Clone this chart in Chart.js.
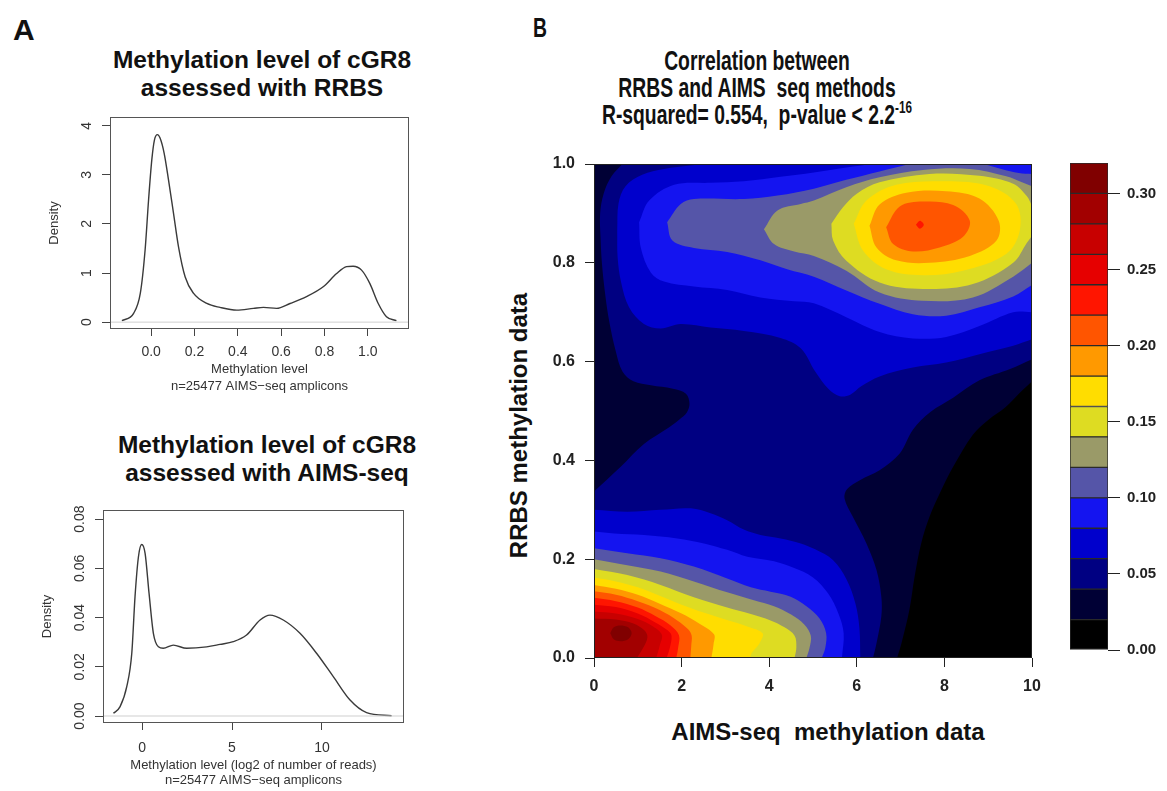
<!DOCTYPE html>
<html>
<head>
<meta charset="utf-8">
<script src="https://cdn.jsdelivr.net/npm/chart.js@4.4.1/dist/chart.umd.min.js"></script>
<style>
  body { margin:0; width:1167px; height:791px; background:#fff; position:relative; overflow:hidden;
         font-family:'Liberation Sans', Arial, sans-serif; }
  canvas { position:absolute; }
  .txt { position:absolute; white-space:nowrap; color:#111; }
  .ltitle { font-weight:bold; font-size:24.5px; line-height:28.3px; text-align:center; width:400px; }
  .narrow { font-weight:bold; font-size:28px; line-height:27px; text-align:center; width:600px;
            transform:scaleX(0.69); transform-origin:300px 0; }
  .narrow sup { font-size:17px; line-height:0; vertical-align:11px; }
  .axt { font-weight:bold; font-size:24px; line-height:29px; text-align:center; }
</style>
</head>
<body>
<div class="txt" style="left:13px;top:14.6px;font:bold 30px/30px 'Liberation Sans',Arial,sans-serif;">A</div>
<div class="txt" style="left:533px;top:14.3px;font:bold 28px/28px 'Liberation Sans',Arial,sans-serif;transform:scaleX(0.69);transform-origin:0 0;">B</div>

<div class="txt ltitle" style="left:62px;top:45.9px;">Methylation level of cGR8<br>assessed with RRBS</div>
<div class="txt ltitle" style="left:67px;top:430.9px;">Methylation level of cGR8<br>assessed with AIMS-seq</div>

<div class="txt narrow" style="left:457px;top:46.8px;">Correlation between<br>RRBS and AIMS&nbsp; seq methods<br>R-squared= 0.554,&nbsp; p-value &lt; 2.2<sup>-16</sup></div>

<div class="txt axt" style="left:578px;top:717px;width:500px;">AIMS-seq&nbsp; methylation data</div>
<div class="txt axt" style="left:318px;top:410.5px;width:400px;height:29px;transform:rotate(-90deg);transform-origin:200px 14.5px;">RRBS methylation data</div>

<canvas id="c1" width="420" height="290" style="left:0;top:110px;"></canvas>
<canvas id="c2" width="420" height="320" style="left:0;top:480px;"></canvas>
<canvas id="c3" width="570" height="620" style="left:480px;top:140px;"></canvas>
<canvas id="c4" width="107" height="520" style="left:1060px;top:150px;"></canvas>

<script>
// ================= DATA =================
// Panel A, top: RRBS density
const rrbsX = [-0.135,-0.081,-0.05,-0.028,-0.012,0.003,0.015,0.029,0.041,0.06,0.08,0.103,0.126,0.157,0.195,0.257,0.318,0.395,0.472,0.518,0.579,0.641,0.717,0.794,0.856,0.902,0.932,0.971,1.009,1.048,1.086,1.132];
const rrbsY = [0.03,0.18,0.59,1.47,2.49,3.31,3.71,3.82,3.75,3.44,2.9,2.22,1.54,0.92,0.59,0.38,0.30,0.245,0.28,0.30,0.28,0.38,0.52,0.72,0.99,1.13,1.14,1.06,0.79,0.38,0.11,0.03];
const rrbsXTicks = [0, 0.2, 0.4, 0.6, 0.8, 1.0];
const rrbsYTicks = [0, 1, 2, 3, 4];
const rrbsRange = { xmin:-0.19, xmax:1.19, ymin:-0.14, ymax:4.18 };

// Panel A, bottom: AIMS-seq density
const aimsX = [-1.59,-1.22,-0.85,-0.57,-0.39,-0.2,-0.02,0.17,0.39,0.63,0.91,1.18,1.74,2.48,3.59,4.33,5.07,5.81,6.56,7.11,7.85,8.78,9.7,10.63,11.56,12.48,13.87];
const aimsY = [0.0011,0.0038,0.0119,0.0255,0.0485,0.0647,0.0697,0.0661,0.0498,0.0336,0.0281,0.0275,0.0288,0.0275,0.0281,0.0291,0.0302,0.0329,0.039,0.041,0.039,0.0336,0.0255,0.016,0.0065,0.0014,0.0001];
const aimsXTicks = [0, 5, 10];
const aimsYTicks = [0, 0.02, 0.04, 0.06, 0.08];
const aimsRange = { xmin:-2.17, xmax:14.56, ymin:-0.00284, ymax:0.0837 };

// Panel B: filled density contour
const corrXTicks = [0, 2, 4, 6, 8, 10];
const corrYTicks = [0, 0.2, 0.4, 0.6, 0.8, 1.0];
const corrRange = { xmin:0, xmax:10, ymin:0, ymax:1 };
const levelBreaks = [0,0.02,0.04,0.06,0.08,0.10,0.12,0.14,0.16,0.18,0.20,0.22,0.24,0.26,0.28,0.30,0.32];
const levelColors = ['#000000','#000035','#000082','#0000cc','#1414f0','#5555a8','#9a9a68','#dedc22',
                     '#ffdd00','#ff9900','#ff5500','#ff1500','#e60000','#c80000','#a20000','#800000'];
const colorbarTicks = [0, 0.05, 0.10, 0.15, 0.20, 0.25, 0.30];

// contour bands, [x, y] outlines, each filled with its level colour
const bandL1 = [[0,0],[10,0],[10,1],[0,1],[0,0]];
const bandL0 = [[6.92,0],[7.02,0.03],[7.2,0.097],[7.32,0.165],[7.47,0.232],[7.66,0.286],[7.93,0.34],[8.2,0.387],[8.65,0.452],[9.0,0.482],[9.4,0.508],[9.7,0.535],[10,0.56],[10,0],[6.92,0]];
const bandL2 = [[0.65,1],[10,1],[10,0.605],[9.5,0.585],[8.8,0.562],[8.2,0.527],[7.68,0.498],[7.28,0.462],[6.98,0.414],[6.52,0.38],[6.07,0.36],[5.78,0.342],[5.72,0.323],[5.91,0.286],[6.22,0.232],[6.45,0.178],[6.56,0.124],[6.56,0.084],[6.45,0.03],[6.37,0],[0,0],[0,0.337],[0.61,0.387],[1.14,0.433],[1.7,0.466],[1.95,0.483],[2.12,0.497],[2.18,0.515],[2.1,0.535],[1.8,0.545],[1.3,0.552],[0.9,0.56],[0.65,0.58],[0.5,0.62],[0.35,0.68],[0.25,0.74],[0.18,0.8],[0.15,0.85],[0.14,0.9],[0.22,0.94],[0.4,0.975],[0.65,1]];
const bandL3up = [[0.53,0.865],[0.56,0.92],[0.72,0.955],[1.1,0.978],[1.6,0.99],[2.2,0.997],[2.6,1],[10,1],[10,0.645],[9.57,0.632],[8.8,0.615],[8.04,0.598],[7.28,0.588],[6.52,0.57],[6.1,0.55],[5.85,0.533],[5.61,0.53],[5.35,0.545],[5.05,0.58],[4.72,0.627],[4.26,0.648],[3.42,0.662],[2.66,0.669],[1.98,0.676],[1.52,0.667],[1.14,0.676],[0.8,0.71],[0.62,0.76],[0.54,0.81],[0.53,0.865]];
const bandL3lo = [[0,0],[0,0.3],[0.76,0.296],[1.52,0.3],[2.21,0.303],[2.66,0.293],[3.04,0.279],[3.42,0.26],[3.8,0.249],[4.26,0.242],[4.72,0.232],[5.05,0.22],[5.46,0.198],[5.76,0.16],[5.97,0.11],[6.06,0.06],[6.08,0],[0,0]];
const bandL4up = [[1.03,0.882],[1.26,0.926],[1.83,0.958],[2.66,0.962],[3.42,0.965],[4.26,0.974],[5.02,0.983],[5.76,0.993],[6.37,1],[10,1],[10,0.7],[9.57,0.7],[8.8,0.672],[8.04,0.65],[7.28,0.647],[6.52,0.66],[5.76,0.69],[5.02,0.718],[4.57,0.722],[3.8,0.73],[3.04,0.745],[2.28,0.752],[1.6,0.762],[1.3,0.78],[1.07,0.83],[1.03,0.882]];
const bandL4lo = [[0,0],[0,0.256],[0.46,0.252],[1.14,0.249],[1.9,0.242],[2.51,0.232],[3.04,0.219],[3.5,0.205],[4.11,0.196],[4.57,0.182],[5.0,0.163],[5.35,0.13],[5.58,0.09],[5.7,0.05],[5.66,0],[0,0]];
const bandL5up = [[1.67,0.882],[1.98,0.919],[2.28,0.929],[3.42,0.929],[4.19,0.936],[5.02,0.95],[5.76,0.968],[6.52,0.985],[7.2,1],[8.9,1],[9.3,0.99],[9.7,0.982],[10,0.98],[10,0.755],[9.57,0.732],[8.8,0.71],[8.04,0.693],[7.28,0.696],[6.52,0.717],[5.76,0.744],[5.02,0.772],[4.41,0.787],[3.8,0.805],[3.04,0.822],[2.28,0.83],[1.79,0.845],[1.67,0.882]];
const bandL5lo = [[0,0],[0,0.222],[0.76,0.212],[1.52,0.202],[2.28,0.185],[3.04,0.161],[3.58,0.143],[4.03,0.134],[4.49,0.124],[4.85,0.105],[5.15,0.08],[5.3,0.05],[5.28,0.02],[5.2,0],[0,0]];
const bandL6up = [[3.88,0.868],[4.19,0.906],[4.72,0.919],[5.02,0.926],[5.76,0.953],[6.52,0.973],[7.51,0.988],[8.58,0.99],[9.41,0.975],[9.8,0.962],[10,0.955],[10,0.8],[9.57,0.772],[8.65,0.73],[7.51,0.723],[6.52,0.74],[5.76,0.784],[5.02,0.814],[4.57,0.823],[4.11,0.838],[3.88,0.868]];
const bandL6lo = [[0,0],[0,0.2],[0.76,0.188],[1.52,0.175],[2.28,0.155],[3.04,0.133],[3.65,0.117],[4.11,0.105],[4.5,0.088],[4.8,0.068],[4.95,0.045],[4.92,0.02],[4.85,0],[0,0]];
const bandL7up = [[5.42,0.879],[5.68,0.912],[6.0,0.94],[6.52,0.963],[7.66,0.98],[8.8,0.976],[9.57,0.96],[9.88,0.935],[10,0.915],[10,0.855],[9.88,0.84],[9.57,0.8],[8.65,0.757],[7.51,0.747],[6.52,0.76],[5.76,0.804],[5.46,0.845],[5.42,0.879]];
const bandL7lo = [[0,0],[0,0.18],[0.76,0.168],[1.52,0.148],[2.28,0.123],[3.04,0.102],[3.58,0.089],[4.03,0.076],[4.35,0.062],[4.58,0.045],[4.62,0.022],[4.58,0],[0,0]];
const bandL8up = [[5.93,0.879],[6.22,0.926],[6.9,0.958],[8.04,0.965],[9.03,0.955],[9.64,0.919],[9.72,0.865],[9.41,0.818],[8.42,0.784],[7.51,0.775],[6.67,0.787],[6.14,0.825],[5.93,0.879]];
const bandL8lo = [[0,0],[0,0.163],[0.5,0.155],[1.0,0.143],[1.5,0.126],[2.0,0.108],[2.5,0.092],[3.0,0.078],[3.5,0.064],[3.85,0.05],[3.78,0.03],[3.6,0.01],[3.56,0],[0,0]];
const bandL9up = [[6.29,0.875],[6.52,0.918],[7.13,0.942],[8.04,0.945],[8.8,0.93],[9.24,0.885],[9.19,0.845],[8.58,0.814],[7.66,0.8],[6.9,0.805],[6.45,0.831],[6.29,0.875]];
const bandL9lo = [[0,0],[0,0.148],[0.5,0.14],[1.0,0.128],[1.5,0.11],[2.0,0.09],[2.4,0.07],[2.74,0.048],[2.73,0.028],[2.68,0],[0,0]];
const bandL10up = [[6.67,0.872],[6.98,0.914],[7.51,0.924],[8.2,0.917],[8.58,0.885],[8.42,0.852],[7.89,0.831],[7.28,0.823],[6.83,0.838],[6.67,0.872]];
const bandL10lo = [[0,0],[0,0.135],[0.5,0.128],[1.0,0.115],[1.5,0.097],[1.9,0.076],[2.15,0.058],[2.23,0.045],[2.22,0.025],[2.2,0],[0,0]];
const bandL11up = [[7.35,0.877],[7.44,0.885],[7.53,0.877],[7.44,0.869],[7.35,0.877]];
const bandL11lo = [[0,0],[0,0.122],[0.5,0.115],[1.0,0.102],[1.4,0.085],[1.75,0.066],[1.94,0.046],[1.92,0.02],[1.88,0],[0,0]];
const bandL12lo = [[0,0],[0,0.108],[0.5,0.103],[1.0,0.09],[1.4,0.072],[1.68,0.056],[1.77,0.045],[1.73,0.02],[1.66,0],[0,0]];
const bandL13lo = [[0,0],[0,0.094],[0.5,0.09],[1.0,0.079],[1.35,0.064],[1.55,0.047],[1.5,0.025],[1.42,0],[0,0]];
const bandL14lo = [[0,0],[0,0.08],[0.5,0.078],[0.9,0.07],[1.15,0.056],[1.22,0.042],[1.12,0.02],[0.98,0],[0,0]];
const bandL15lo = [[0.37,0.05],[0.45,0.062],[0.6,0.066],[0.78,0.062],[0.86,0.05],[0.78,0.038],[0.6,0.034],[0.45,0.038],[0.37,0.05]];

// draw order (bottom -> top): [level, outline]
const contourLayers = [
  [1,bandL1],[0,bandL0],[2,bandL2],
  [3,bandL3up],[3,bandL3lo],[4,bandL4up],[4,bandL4lo],[5,bandL5up],[5,bandL5lo],
  [6,bandL6up],[6,bandL6lo],[7,bandL7up],[7,bandL7lo],[8,bandL8up],[8,bandL8lo],
  [9,bandL9up],[9,bandL9lo],[10,bandL10up],[10,bandL10lo],[11,bandL11up],[11,bandL11lo],
  [12,bandL12lo],[13,bandL13lo],[14,bandL14lo],[15,bandL15lo]
];

// ================= RENDER =================
const FONT = "'Liberation Sans', Arial, sans-serif";
Chart.defaults.font.family = FONT;

const xy = (xs, ys) => xs.map((x, i) => ({ x, y: ys[i] }));
const setTicks = arr => s => { s.ticks = arr.map(v => ({ value: v })); };

const framePlugin = color => ({
  id: 'frame',
  afterDatasetsDraw(chart) {
    const { ctx, chartArea: a } = chart;
    ctx.save(); ctx.strokeStyle = color; ctx.lineWidth = 1;
    ctx.strokeRect(a.left + 0.5, a.top + 0.5, a.right - a.left - 1, a.bottom - a.top - 1);
    ctx.restore();
  }
});
const rotatedYLabels = (fmt, offset) => ({
  id: 'rotY',
  afterDraw(chart) {
    const s = chart.scales.y, ctx = chart.ctx;
    ctx.save(); ctx.fillStyle = '#333'; ctx.font = '14px ' + FONT;
    ctx.textAlign = 'center'; ctx.textBaseline = 'middle';
    s.ticks.forEach(t => {
      ctx.save();
      ctx.translate(chart.chartArea.left - offset, s.getPixelForValue(t.value));
      ctx.rotate(-Math.PI / 2);
      ctx.fillText(fmt(t.value), 0, 0);
      ctx.restore();
    });
    ctx.restore();
  }
});

function densityChart(id, xs, ys, range, xTicks, yTicks, fmtX, fmtY, lay) {
  new Chart(document.getElementById(id), {
    type: 'line',
    data: { datasets: [
      { data: [{ x: range.xmin, y: 0 }, { x: range.xmax, y: 0 }], borderColor: '#cfcfcf', borderWidth: 1, pointRadius: 0 },
      { data: xy(xs, ys), borderColor: '#3a3a3a', borderWidth: 1.4, pointRadius: 0, cubicInterpolationMode: 'monotone', tension: 0.4 }
    ]},
    options: {
      responsive: false, animation: false, events: [],
      layout: { padding: { top: lay.top, right: lay.right, left: 0, bottom: 0 } },
      plugins: { legend: { display: false }, tooltip: { enabled: false } },
      scales: {
        x: { type: 'linear', min: range.xmin, max: range.xmax, afterBuildTicks: setTicks(xTicks),
             afterFit: s => { s.height = lay.xh; s.paddingLeft = 0; s.paddingRight = 0; },
             ticks: { callback: fmtX, font: { size: 14 }, color: '#333', padding: lay.xpad, maxRotation: 0, autoSkip: false },
             grid: { drawOnChartArea: false, tickLength: 7, color: '#444' }, border: { display: false },
             title: { display: true, text: lay.xtitle, color: '#333', font: { size: 13, lineHeight: lay.xlh + 'px' }, padding: { top: 0, bottom: lay.xtpad } } },
        y: { type: 'linear', min: range.ymin, max: range.ymax, afterBuildTicks: setTicks(yTicks),
             afterFit: s => { s.width = lay.yw; s.paddingTop = 0; s.paddingBottom = 0; },
             ticks: { color: 'rgba(0,0,0,0)', font: { size: 14 } },
             grid: { drawOnChartArea: false, tickLength: 8, color: '#444' }, border: { display: false },
             title: { display: true, text: 'Density', color: '#333', font: { size: 13 }, padding: { top: lay.ytpad, bottom: 0 } } }
      }
    },
    plugins: [framePlugin('#555'), rotatedYLabels(fmtY, 23)]
  });
}

densityChart('c1', rrbsX, rrbsY, rrbsRange, rrbsXTicks, rrbsYTicks, v => v.toFixed(1), v => String(v),
  { top: 7, right: 11, xh: 71, yw: 110, xpad: 8, xlh: 17, xtpad: 5.5, ytpad: 47,
    xtitle: ['Methylation level', 'n=25477 AIMS\u2212seq amplicons'] });
densityChart('c2', aimsX, aimsY, aimsRange, aimsXTicks, aimsYTicks, v => String(v), v => v.toFixed(2),
  { top: 30, right: 16, xh: 77, yw: 103, xpad: 9.6, xlh: 15, xtpad: 12.5, ytpad: 39.2,
    xtitle: ['Methylation level (log2 of number of reads)', 'n=25477 AIMS\u2212seq amplicons'] });

// contour panel
const onEdge = p => p[0] <= corrRange.xmin || p[0] >= corrRange.xmax || p[1] <= corrRange.ymin || p[1] >= corrRange.ymax;
const toPts = pts => pts.flatMap(p => onEdge(p) ? [{ x: p[0], y: p[1] }, { x: p[0], y: p[1] }] : [{ x: p[0], y: p[1] }]);

new Chart(document.getElementById('c3'), {
  type: 'line',
  data: { datasets: contourLayers.map((layer, i) => ({
    data: toPts(layer[1]), backgroundColor: levelColors[layer[0]], borderColor: 'rgba(0,0,0,0)', borderWidth: 0,
    pointRadius: 0, fill: 'shape', tension: 0.35, order: contourLayers.length - i
  })) },
  options: {
    responsive: false, animation: false, events: [],
    layout: { padding: { top: 24, right: 18, left: 0, bottom: 0 } },
    plugins: { legend: { display: false }, tooltip: { enabled: false } },
    scales: {
      x: { type: 'linear', min: corrRange.xmin, max: corrRange.xmax, afterBuildTicks: setTicks(corrXTicks),
           afterFit: s => { s.height = 102; s.paddingLeft = 0; s.paddingRight = 0; },
           ticks: { font: { size: 16, weight: 'bold' }, color: '#222', padding: 10, maxRotation: 0, autoSkip: false },
           grid: { drawOnChartArea: false, tickLength: 9, color: '#222' }, border: { display: false } },
      y: { type: 'linear', min: corrRange.ymin, max: corrRange.ymax, afterBuildTicks: setTicks(corrYTicks),
           afterFit: s => { s.width = 114; s.paddingTop = 0; s.paddingBottom = 0; },
           ticks: { callback: v => v.toFixed(1), font: { size: 16, weight: 'bold' }, color: '#222', padding: 10 },
           grid: { drawOnChartArea: false, tickLength: 9, color: '#222' }, border: { display: false } }
    }
  },
  plugins: [framePlugin('#222')]
});

// colour key
new Chart(document.getElementById('c4'), {
  type: 'bar',
  data: { labels: [''], datasets: levelColors.map((c, i) => ({
    data: [[levelBreaks[i], levelBreaks[i + 1]]], backgroundColor: c, borderColor: '#2a2a2a', borderWidth: 1,
    borderSkipped: false, barPercentage: 1, categoryPercentage: 1, grouped: false
  })) },
  options: {
    responsive: false, animation: false, events: [],
    layout: { padding: { top: 13, left: 10, bottom: 20, right: 0 } },
    plugins: { legend: { display: false }, tooltip: { enabled: false } },
    scales: {
      x: { display: false },
      y: { position: 'right', min: 0, max: levelBreaks[levelBreaks.length - 1], afterBuildTicks: setTicks(colorbarTicks),
           afterFit: s => { s.width = 59; s.paddingTop = 0; s.paddingBottom = 0; },
           ticks: { callback: v => v.toFixed(2), font: { size: 15, weight: 'bold' }, color: '#222', padding: 7 },
           grid: { drawOnChartArea: false, tickLength: 12, color: '#222' }, border: { display: false } }
    }
  }
});
</script>
</body>
</html>
